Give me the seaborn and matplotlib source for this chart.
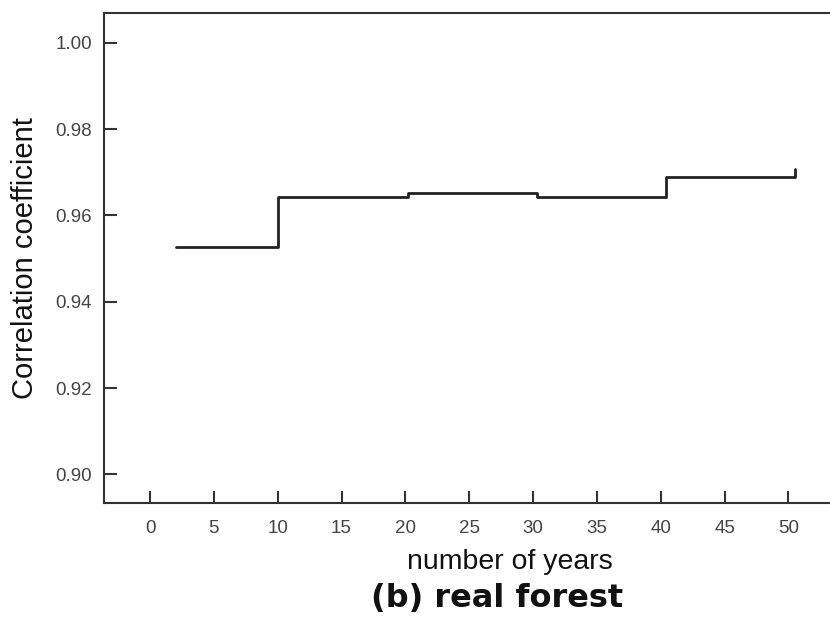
import pandas as pd
import matplotlib
matplotlib.use("Agg")
import matplotlib.pyplot as plt
import seaborn as sns

# step points (steps-post)
years = [2, 10, 20.2, 30.3, 40.4, 50.5]
corr = [0.9528, 0.9644, 0.9651, 0.9644, 0.9689, 0.9708]
x_ticks = list(range(0, 55, 5))
y_ticks = [0.90, 0.92, 0.94, 0.96, 0.98, 1.00]

df = pd.DataFrame({"years": years, "corr": corr})

sns.set_style("ticks")
plt.rcParams['font.family'] = ['Liberation Sans', 'DejaVu Sans']

fig = plt.figure(figsize=(8.3, 6.22), dpi=100)
ax = fig.add_axes([104.3 / 830, (622 - 503.3) / 622, 1 - 104.3 / 830, (503.3 - 12.7) / 622])

sns.lineplot(data=df, x="years", y="corr", drawstyle="steps-post",
             color="#222222", linewidth=2, ax=ax)

ax.set_xlim(-3.58, 53.25)
ax.set_ylim(0.8933, 1.0070)
ax.set_xticks(x_ticks)
ax.set_yticks(y_ticks)
ax.set_yticklabels([f"{v:.2f}" for v in y_ticks])

ax.tick_params(direction="in", length=9, width=1.5, color="#333333",
               labelsize=13.5, labelcolor="#444444")
ax.tick_params(axis="x", pad=12)
ax.tick_params(axis="y", pad=9)

for s in ["left", "bottom", "top"]:
    ax.spines[s].set_color("#333333")
    ax.spines[s].set_linewidth(1.5)
ax.spines["right"].set_visible(False)

ax.set_xlabel("")
ax.set_ylabel("")
fig.text(25 / 830, 1 - 258 / 622, "Correlation coefficient", rotation=90,
         ha="center", va="center", fontsize=21, color="#111111")
fig.text(510 / 830, 1 - 562 / 622, "number of years",
         ha="center", va="center", fontsize=20.5, color="#111111")
fig.text(497 / 830, 1 - 598 / 622, "(b) real forest", family="DejaVu Sans",
         ha="center", va="center", fontsize=23, fontweight="bold", color="#111111")

fig.savefig("out.png", dpi=100)
